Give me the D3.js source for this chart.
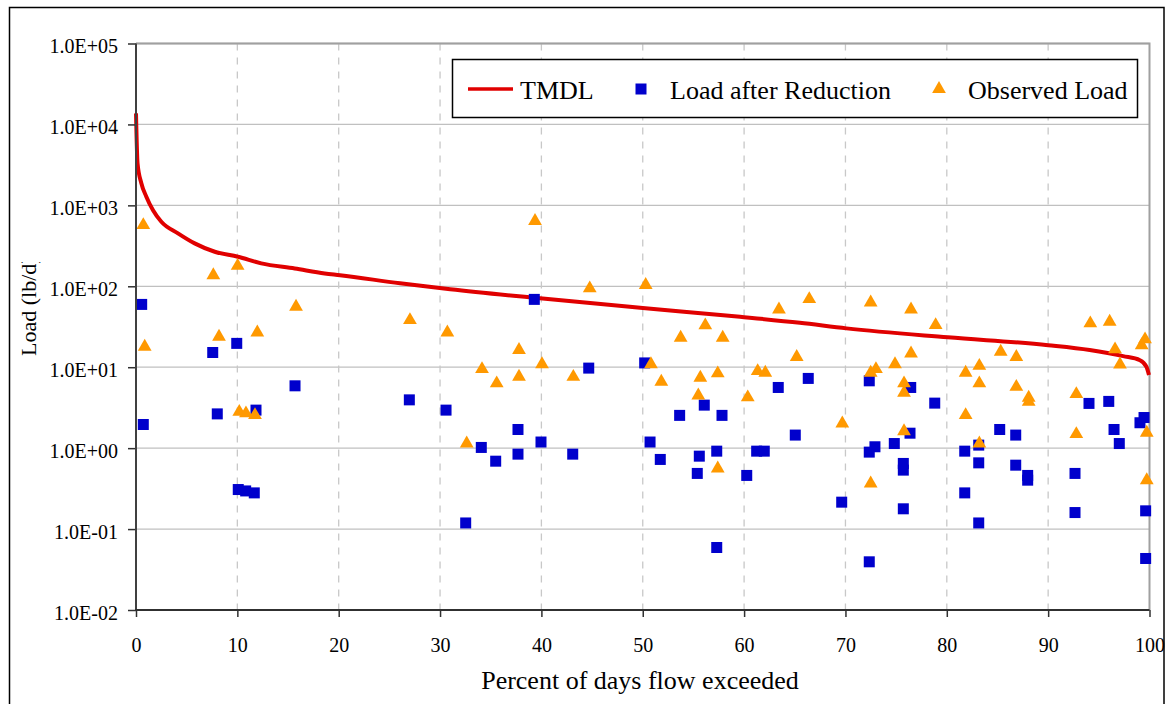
<!DOCTYPE html>
<html>
<head>
<meta charset="utf-8">
<script src="https://cdn.jsdelivr.net/npm/d3@7"></script>
<style>
  html, body { margin: 0; padding: 0; background: #fff; }
  svg { display: block; }
  svg text { font-family: "Liberation Serif", "Times New Roman", serif; fill: #000; }
</style>
</head>
<body>
<svg id="chart" width="1168" height="704"></svg>
<script>
// Load duration curve: TMDL (percent of days flow exceeded vs. load, lb/d)
const tmdlPct  = [0, 0.15, 0.52, 1.02, 1.68, 2.5, 4.14, 5.79, 7.77, 10.06, 12.36, 15.66, 18.62, 20.13, 26.05, 31.0, 39.86, 50.0, 59.6, 65.5, 70.1, 80.1, 90.0, 94.1, 97.4, 99.06, 99.7, 99.95];
const tmdlLoad = [13700, 3330, 1890, 1280, 870, 627, 451, 339, 267, 232, 192, 166, 144, 137, 109, 92, 71, 54, 42, 35.4, 30.2, 23.4, 18.7, 16.3, 13.7, 12.2, 10.1, 8.0];

// Observed loads
const observedPct = [0.72, 0.86, 7.63, 8.19, 10.03, 10.19, 10.85, 11.74, 11.97, 15.79,
  27.03, 30.72, 32.63, 34.14, 35.59, 37.79, 37.79, 39.37, 40.06, 43.15,
  44.77, 50.29, 50.81, 51.83, 53.74, 55.48, 55.68, 56.17, 57.40, 57.40,
  57.89, 60.36, 61.34, 62.09, 63.44, 65.19, 66.43, 69.69, 72.49, 72.49,
  72.49, 73.01, 74.89, 75.78, 75.78, 75.78, 76.47, 76.47, 78.90, 81.86,
  81.86, 83.21, 83.21, 83.21, 85.32, 86.86, 86.86, 88.08, 88.08, 92.78,
  92.78, 94.16, 96.07, 96.60, 97.09, 99.23, 99.56, 99.73, 99.73];
const observedLoad = [570, 17.9, 137, 23.8, 179, 2.81, 2.69, 2.56, 26.9, 55.8,
  38.2, 26.9, 1.14, 9.48, 6.31, 16.3, 7.61, 640, 10.9, 7.6,
  94.2, 104, 10.9, 6.6, 23.1, 4.48, 7.4, 32.9, 8.4, 0.561,
  23.1, 4.24, 8.95, 8.53, 51.8, 13.4, 69.5, 2.02, 63.2, 8.53,
  0.366, 9.48, 10.9, 6.31, 4.83, 1.62, 51.8, 14.8, 33.1, 8.53,
  2.56, 10.4, 6.31, 1.14, 15.5, 13.4, 5.72, 4.19, 3.73, 4.65,
  1.49, 34.8, 36.4, 16.6, 10.8, 18.7, 22.1, 1.55, 0.402];

// Loads after the required reduction
const reducedPct = [0.56, 0.72, 7.57, 8.02, 9.94, 10.09, 10.82, 11.67, 11.84, 15.69,
  26.97, 30.59, 32.53, 34.07, 35.49, 37.69, 37.69, 39.30, 39.96, 43.09,
  44.67, 50.19, 50.72, 51.73, 53.64, 55.38, 55.58, 56.07, 57.30, 57.30,
  57.82, 60.26, 61.24, 61.99, 63.37, 65.05, 66.33, 69.63, 72.35, 72.35,
  72.35, 72.91, 74.82, 75.71, 75.71, 75.71, 76.44, 76.37, 78.81, 81.77,
  81.77, 83.15, 83.15, 83.15, 85.22, 86.80, 86.80, 87.98, 87.98, 92.65,
  92.65, 94.03, 95.98, 96.50, 97.02, 99.06, 99.46, 99.62, 99.62];
const reducedLoad = [59.7, 1.96, 15.2, 2.65, 19.7, 0.308, 0.296, 0.280, 2.95, 5.89,
  3.95, 2.95, 0.119, 1.02, 0.69, 1.70, 0.843, 68.9, 1.19, 0.843,
  9.75, 11.3, 1.19, 0.725, 2.54, 0.487, 0.796, 3.40, 0.918, 0.0592,
  2.54, 0.460, 0.918, 0.918, 5.62, 1.45, 7.27, 0.215, 6.79, 0.893,
  0.0394, 1.04, 1.14, 0.647, 0.535, 0.178, 5.62, 1.53, 3.60, 0.918,
  0.280, 1.09, 0.658, 0.119, 1.70, 1.45, 0.616, 0.460, 0.402, 0.487,
  0.160, 3.57, 3.78, 1.70, 1.14, 2.06, 2.39, 0.168, 0.0433];

const xTickValues = [0, 10, 20, 30, 40, 50, 60, 70, 80, 90, 100];
const yTickValues = [1e-2, 1e-1, 1e0, 1e1, 1e2, 1e3, 1e4, 1e5];
const yTickLabels = ["1.0E-02", "1.0E-01", "1.0E+00", "1.0E+01", "1.0E+02", "1.0E+03", "1.0E+04", "1.0E+05"];
const seriesNames = ["TMDL", "Load after Reduction", "Observed Load"];
const xTitle = "Percent of days flow exceeded";
const yTitle = "Load (lb/d)";

const colors = { tmdl: "#e00000", reduced: "#0000cc", observed: "#ff9900" };
const serif = "'Liberation Serif', 'Times New Roman', serif";

const svg = d3.select("#chart");
const plot = { left: 136, right: 1149.5, top: 43.5, bottom: 610 };

const x = d3.scaleLinear().domain([0, 100]).range([plot.left, plot.right]);
const y = d3.scaleLog().domain([1e-2, 1e5]).range([plot.bottom, plot.top]);

// outer frame
svg.append("rect")
  .attr("x", 9.5).attr("y", 7.5).attr("width", 1154.5).attr("height", 710)
  .attr("fill", "none").attr("stroke", "#000").attr("stroke-width", 1.5);

// horizontal gridlines (solid) at each decade
svg.append("g").selectAll("line").data(yTickValues).join("line")
  .attr("x1", plot.left).attr("x2", plot.right)
  .attr("y1", d => y(d)).attr("y2", d => y(d))
  .attr("stroke", "#c0c0c0").attr("stroke-width", 1.3);

// vertical gridlines (dashed)
svg.append("g").selectAll("line").data(xTickValues.slice(1, -1)).join("line")
  .attr("x1", d => x(d)).attr("x2", d => x(d))
  .attr("y1", plot.top).attr("y2", plot.bottom)
  .attr("stroke", "#c8c8c8").attr("stroke-width", 1.3)
  .attr("stroke-dasharray", "7,7");

// plot frame: top and right edges
svg.append("path")
  .attr("d", `M${plot.left},${plot.top}H${plot.right}V${plot.bottom}`)
  .attr("fill", "none").attr("stroke", "#a0a0a0").attr("stroke-width", 2);

// TMDL curve
const tmdl = tmdlPct.map((p, i) => [p, tmdlLoad[i]]);
svg.append("path")
  .datum(tmdl)
  .attr("d", d3.line().x(d => x(d[0])).y(d => y(d[1])).curve(d3.curveMonotoneX))
  .attr("fill", "none").attr("stroke", colors.tmdl).attr("stroke-width", 4)
  .attr("stroke-linejoin", "round");

// Load after Reduction: squares
const sq = 11;
svg.append("g").selectAll("rect")
  .data(reducedPct.map((p, i) => [p, reducedLoad[i]]))
  .join("rect")
  .attr("x", d => x(d[0]) - sq / 2).attr("y", d => y(d[1]) - sq / 2)
  .attr("width", sq).attr("height", sq)
  .attr("fill", colors.reduced);

// Observed Load: triangles
const tri = d3.symbol().type(d3.symbolTriangle).size(82);
svg.append("g").selectAll("path")
  .data(observedPct.map((p, i) => [p, observedLoad[i]]))
  .join("path")
  .attr("transform", d => `translate(${x(d[0])},${y(d[1])})`)
  .attr("d", tri)
  .attr("fill", colors.observed);

// axes
const yAxis = d3.axisLeft(y).tickValues(yTickValues)
  .tickFormat((d, i) => yTickLabels[i]).tickSize(8).tickPadding(10);
const gy = svg.append("g").attr("transform", `translate(${plot.left},0)`).call(yAxis)
  .attr("font-family", serif).attr("font-size", 20);
gy.select(".domain").remove();
gy.selectAll(".tick line").attr("stroke", "#303030").attr("stroke-width", 1.5);
gy.selectAll(".tick text").attr("fill", "#000").attr("dy", "0.45em");

const xAxis = d3.axisBottom(x).tickValues(xTickValues).tickSize(7).tickPadding(21);
const gx = svg.append("g").attr("transform", `translate(0,${plot.bottom})`).call(xAxis)
  .attr("font-family", serif).attr("font-size", 20);
gx.select(".domain").remove();
gx.selectAll(".tick line").attr("stroke", "#303030").attr("stroke-width", 1.5);
gx.selectAll(".tick text").attr("fill", "#000");

// axis lines
svg.append("line").attr("x1", plot.left).attr("x2", plot.left)
  .attr("y1", plot.top).attr("y2", plot.bottom + 1)
  .attr("stroke", "#404040").attr("stroke-width", 2);
svg.append("line").attr("x1", plot.left - 1).attr("x2", plot.right)
  .attr("y1", plot.bottom).attr("y2", plot.bottom)
  .attr("stroke", "#303030").attr("stroke-width", 2);

// axis titles
svg.append("text")
  .attr("x", 640).attr("y", 689)
  .attr("text-anchor", "middle").attr("font-size", 26).text(xTitle);

svg.append("clipPath").attr("id", "ytitle-clip")
  .append("rect").attr("x", 0).attr("y", 262).attr("width", 120).attr("height", 200);
svg.append("g").attr("clip-path", "url(#ytitle-clip)")
  .append("text")
  .attr("transform", "translate(36,356) rotate(-90)")
  .attr("text-anchor", "start").attr("font-size", 22).text(yTitle);

// legend
const lg = svg.append("g");
lg.append("rect").attr("x", 452.5).attr("y", 59.5).attr("width", 685).attr("height", 58)
  .attr("fill", "#fff").attr("stroke", "#000").attr("stroke-width", 1.5);
const ly = 89;
lg.append("line").attr("x1", 468).attr("x2", 513).attr("y1", ly).attr("y2", ly)
  .attr("stroke", colors.tmdl).attr("stroke-width", 3.5);
lg.append("rect").attr("x", 641 - sq / 2).attr("y", ly - sq / 2).attr("width", sq).attr("height", sq)
  .attr("fill", colors.reduced);
lg.append("path").attr("transform", `translate(939,${ly})`).attr("d", tri).attr("fill", colors.observed);
const legendX = [520, 670, 968];
lg.selectAll("text").data(seriesNames).join("text")
  .attr("x", (d, i) => legendX[i]).attr("y", 99)
  .attr("font-size", 26).text(d => d);
</script>
</body>
</html>
